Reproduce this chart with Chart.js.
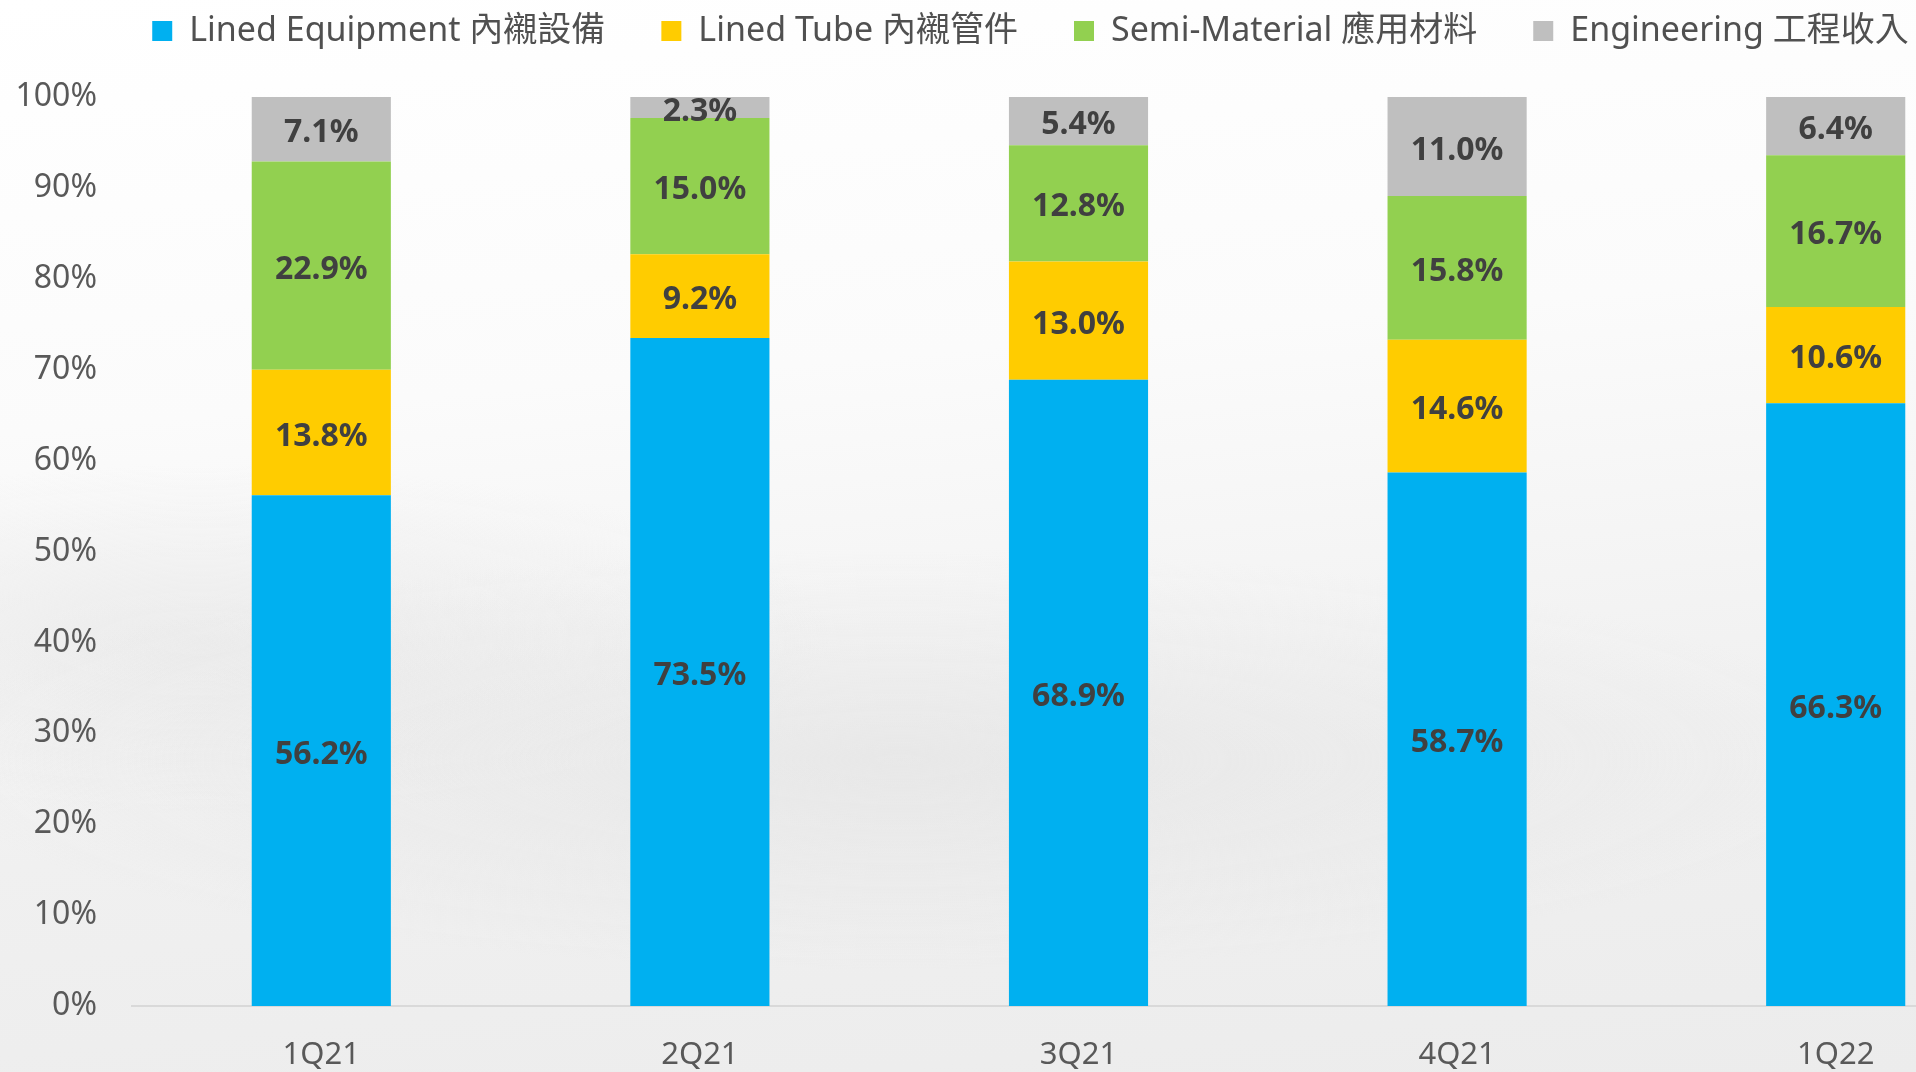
<!DOCTYPE html>
<html>
<head>
<meta charset="utf-8">
<script src="https://cdn.jsdelivr.net/npm/chart.js@4/dist/chart.umd.min.js"></script>
<style>
  html, body { margin:0; padding:0; width:1916px; height:1072px; overflow:hidden; }
  body {
    background:
      radial-gradient(ellipse 1400px 300px at 900px 760px, rgba(225,225,225,0.55), rgba(255,255,255,0) 70%),
      radial-gradient(ellipse 900px 250px at 200px 640px, rgba(230,230,230,0.6), rgba(255,255,255,0) 70%),
      linear-gradient(175deg, #ffffff 0%, #fbfbfb 35%, #f0f0f0 70%, #ececec 100%);
  }
  #wrap { position:absolute; left:0; top:0; width:2025px; height:1072px; }
</style>
</head>
<body>
<div id="wrap"><canvas id="c" width="2025" height="1072"></canvas></div>
<script>
const categories = ['1Q21', '2Q21', '3Q21', '4Q21', '1Q22'];
const seriesNames = ['Lined Equipment 內襯設備', 'Lined Tube 內襯管件', 'Semi-Material 應用材料', 'Engineering 工程收入'];
const linedEquipment = [56.2, 73.5, 68.9, 58.7, 66.3];
const linedTube = [13.8, 9.2, 13.0, 14.6, 10.6];
const semiMaterial = [22.9, 15.0, 12.8, 15.8, 16.7];
const engineering = [7.1, 2.3, 5.4, 11.0, 6.4];
const yTicks = [0, 10, 20, 30, 40, 50, 60, 70, 80, 90, 100];
const colors = ['#00B0F0', '#FFCC00', '#92D050', '#BFBFBF'];

const FONT = '"Noto Sans", "Noto Sans CJK TC", sans-serif';

const legendTweak = {
  id: 'legendTweak',
  beforeInit(chart) {
    const lg = chart.legend;
    const orig = lg.fit;
    lg.fit = function () { orig.call(this); this.height = 97; };
  },
  afterLayout(chart) {
    chart.legend.top = -42;
    chart.legend.left += 18;
    chart.legend.right += 18;
  }
};

const valueLabels = {
  id: 'valueLabels',
  afterDatasetsDraw(chart) {
    const ctx = chart.ctx;
    ctx.save();
    ctx.font = 'bold 32px ' + FONT;
    ctx.fillStyle = '#404040';
    ctx.textAlign = 'center';
    ctx.textBaseline = 'middle';
    chart.data.datasets.forEach((ds, di) => {
      chart.getDatasetMeta(di).data.forEach((bar, i) => {
        const p = bar.getProps(['x', 'y', 'base'], true);
        const yTop = Math.max(p.y, chart.chartArea.top);
        ctx.fillText(ds.data[i].toFixed(1) + '%', p.x, (yTop + p.base) / 2 + 4);
      });
    });
    ctx.restore();
  }
};

const seriesData = [linedEquipment, linedTube, semiMaterial, engineering];

new Chart(document.getElementById('c'), {
  type: 'bar',
  data: {
    labels: categories,
    datasets: seriesNames.map((n, k) => ({
      label: n,
      data: seriesData[k],
      backgroundColor: colors[k],
      borderWidth: 0,
      categoryPercentage: 0.735,
      barPercentage: 0.5
    }))
  },
  options: {
    responsive: false,
    devicePixelRatio: 1,
    animation: false,
    layout: { padding: 0 },
    plugins: {
      tooltip: { enabled: false },
      legend: {
        position: 'top',
        align: 'center',
        labels: {
          boxWidth: 20,
          boxHeight: 20,
          padding: 56,
          color: '#505050',
          font: { family: FONT, size: 34 }
        }
      }
    },
    scales: {
      x: {
        stacked: true,
        grid: { display: false, drawTicks: false },
        border: { display: true, color: '#D9D9D9', width: 2 },
        ticks: { color: '#595959', font: { family: FONT, size: 31 }, padding: 31 },
        afterFit(s) { s.height = 66; }
      },
      y: {
        stacked: true,
        min: 0,
        max: 100,
        afterBuildTicks(s) { s.ticks = yTicks.map(v => ({ value: v })); },
        grid: { display: false, drawTicks: false },
        border: { display: false },
        ticks: { color: '#595959', font: { family: FONT, size: 32 }, padding: 35, callback: v => v + '%' },
        afterFit(s) { s.width = 132; }
      }
    }
  },
  plugins: [legendTweak, valueLabels]
});
</script>
</body>
</html>
